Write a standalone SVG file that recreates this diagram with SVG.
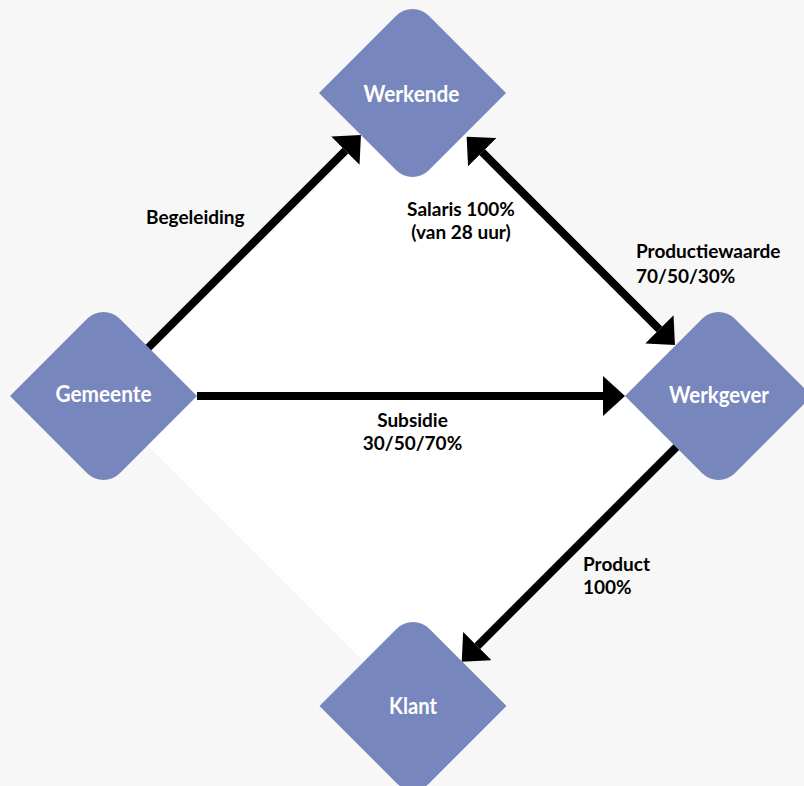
<svg xmlns="http://www.w3.org/2000/svg" xmlns:xlink="http://www.w3.org/1999/xlink" width="804" height="786" viewBox="0 0 804 786">
  <style>
    .node-shape { fill: #7787bd; }
    .node-text { font-family: Lato, "Open Sans", sans-serif; font-weight: bold; font-size: 22px; fill: #ffffff; text-anchor: middle; }
    .conn { stroke: #000000; stroke-width: 8; fill: none; }
    .label { font-family: Lato, "Open Sans", sans-serif; font-weight: bold; font-size: 19px; fill: #000000; }
  </style>
  <defs>
    <path id="diamond" d="M -93.5 0 L -16.3 -77.2 A 23 23 0 0 1 16.3 -77.2 L 93.5 0 L 16.3 77.2 A 23 23 0 0 1 -16.3 77.2 Z"/>
    <marker id="arrow" markerUnits="userSpaceOnUse" viewBox="0 -20 22 40" refX="0" refY="0" markerWidth="22" markerHeight="40" orient="auto-start-reverse">
      <path d="M 0 -20 L 22 0 L 0 20 Z" fill="#000000"/>
    </marker>
  </defs>

  <rect x="0" y="0" width="804" height="786" fill="#f7f7f7"/>
  <polygon points="413,83 726.5,396.5 412.5,710.5 99,397" fill="#ffffff"/>

  <g id="connectors">
    <line class="conn" x1="120" y1="376" x2="345.4" y2="150.6" marker-end="url(#arrow)"/>
    <line class="conn" x1="197" y1="396" x2="603" y2="396" marker-end="url(#arrow)"/>
    <line class="conn" x1="482.2" y1="152.2" x2="659.4" y2="329.4" marker-start="url(#arrow)" marker-end="url(#arrow)"/>
    <line class="conn" x1="690" y1="433.4" x2="477.3" y2="646.1" marker-end="url(#arrow)"/>
  </g>

  <g id="labels">
    <text class="label" x="146" y="224">Begeleiding</text>
    <text class="label" text-anchor="middle"><tspan x="461" y="216">Salaris 100%</tspan><tspan x="461" y="239">(van 28 uur)</tspan></text>
    <text class="label"><tspan x="636" y="258">Productiewaarde</tspan><tspan x="636" y="283">70/50/30%</tspan></text>
    <text class="label" text-anchor="middle"><tspan x="412.5" y="427">Subsidie</tspan><tspan x="412.5" y="450">30/50/70%</tspan></text>
    <text class="label"><tspan x="583" y="571">Product</tspan><tspan x="583" y="594">100%</tspan></text>
  </g>

  <g id="node-werkende">
    <use xlink:href="#diamond" href="#diamond" class="node-shape" transform="translate(412.5,93)"/>
    <text class="node-text" x="411.5" y="102" textLength="96" lengthAdjust="spacingAndGlyphs">Werkende</text>
  </g>
  <g id="node-gemeente">
    <use xlink:href="#diamond" href="#diamond" class="node-shape" transform="translate(103.5,396)"/>
    <text class="node-text" x="103.5" y="402" textLength="96" lengthAdjust="spacingAndGlyphs">Gemeente</text>
  </g>
  <g id="node-werkgever">
    <use xlink:href="#diamond" href="#diamond" class="node-shape" transform="translate(718.5,396)"/>
    <text class="node-text" x="719" y="403" textLength="100" lengthAdjust="spacingAndGlyphs">Werkgever</text>
  </g>
  <g id="node-klant">
    <use xlink:href="#diamond" href="#diamond" class="node-shape" transform="translate(413,706)"/>
    <text class="node-text" x="413" y="714" textLength="48" lengthAdjust="spacingAndGlyphs">Klant</text>
  </g>
</svg>
